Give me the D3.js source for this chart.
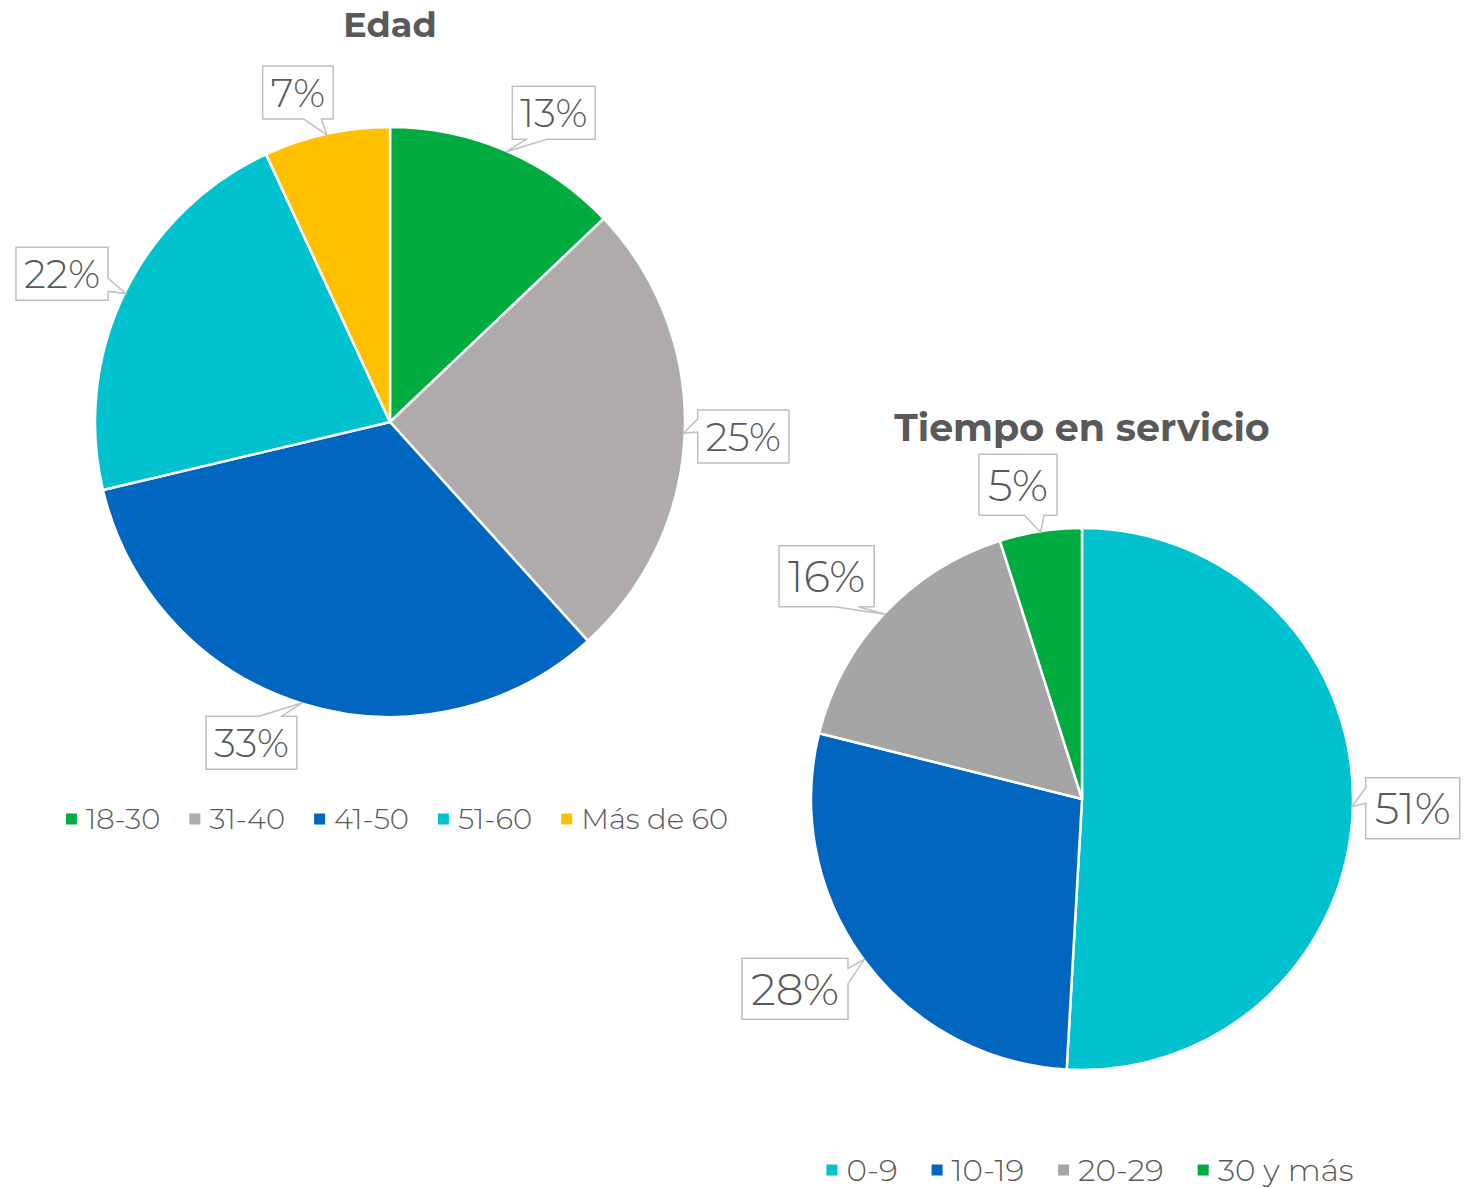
<!DOCTYPE html>
<html>
<head>
<meta charset="utf-8">
<script src="https://cdn.jsdelivr.net/npm/d3@7"></script>
<style>
  html, body { margin: 0; padding: 0; background: #fff; }
  svg { display: block; }
</style>
</head>
<body>
<svg id="chart" width="1468" height="1188"></svg>
<script>
// ---- Data ----
const edadTitle = "Edad";
const edadCats = ["18-30", "31-40", "41-50", "51-60", "Más de 60"];
const edadValues = [12.9, 25.4, 33.0, 21.8, 6.9];

const servTitle = "Tiempo en servicio";
const servCats = ["0-9", "10-19", "20-29", "30 y más"];
const servValues = [50.9, 28.0, 16.2, 4.9];

// ---- Styles ----
const edadColors = ["#00AC3F", "#AFABAB", "#0066C0", "#00C2CE", "#FFC000"];
const servColors = ["#00C2CE", "#0066C0", "#A5A5A5", "#00AC3F"];
const textColor = "#595959";
const fontFamily = "Montserrat, 'Open Sans', Lato, sans-serif";

const svg = d3.select("#chart");

function calloutPath(l, t, w, h, px, py) {
  const r = l + w, b = t + h;
  const dx = px - (l + w / 2), dy = py - (t + h / 2);
  const dq = dx * h / w;
  const dz = Math.abs(dy) - Math.abs(dq);
  const x1 = l + w * (dx > 0 ? 7 : 2) / 12, x2 = l + w * (dx > 0 ? 10 : 5) / 12;
  const y1 = t + h * (dy > 0 ? 7 : 2) / 12, y2 = t + h * (dy > 0 ? 10 : 5) / 12;
  const side = dz > 0 ? (dy < 0 ? "top" : "bottom") : (dx < 0 ? "left" : "right");
  let p = `M${l},${t}`;
  if (side === "top") p += `L${x1},${t}L${px},${py}L${x2},${t}`;
  p += `L${r},${t}`;
  if (side === "right") p += `L${r},${y1}L${px},${py}L${r},${y2}`;
  p += `L${r},${b}`;
  if (side === "bottom") p += `L${x2},${b}L${px},${py}L${x1},${b}`;
  p += `L${l},${b}`;
  if (side === "left") p += `L${l},${y2}L${px},${py}L${l},${y1}`;
  return p + "Z";
}

function drawPie(cfg) {
  const g = svg.append("g");
  const total = d3.sum(cfg.values);
  const pie = d3.pie().sort(null).value(d => d)(cfg.values);
  const color = d3.scaleOrdinal().domain(cfg.cats).range(cfg.colors);
  const arc = d3.arc().innerRadius(0).outerRadius(cfg.r);

  // title
  g.append("text")
    .attr("x", cfg.titleX).attr("y", cfg.titleY)
    .attr("text-anchor", "middle")
    .attr("font-family", fontFamily)
    .attr("font-weight", 700)
    .attr("font-size", cfg.titleSize)
    .attr("fill", textColor)
    .text(cfg.title);

  // slices
  g.append("g").attr("transform", `translate(${cfg.cx},${cfg.cy})`)
    .selectAll("path").data(pie).join("path")
    .attr("d", arc)
    .attr("fill", (d, i) => color(cfg.cats[i]))
    .attr("stroke", "#fff")
    .attr("stroke-width", 2.5)
    .attr("stroke-linejoin", "round");

  // labels
  const lg = g.append("g");
  pie.forEach((d, i) => {
    const mid = (d.startAngle + d.endAngle) / 2;
    const label = Math.round(d.value / total * 100) + "%";
    const t = lg.append("text")
      .attr("font-family", fontFamily)
      .attr("font-weight", 300)
      .attr("font-size", cfg.labelSize)
      .attr("fill", textColor)
      .attr("text-anchor", "middle")
      .text(label);
    const tw = t.node().getComputedTextLength();
    const w = tw + cfg.padX * 2, h = cfg.boxH;
    const a = mid + cfg.nudge[i] * Math.PI / 180;
    const ux = Math.sin(a), uy = -Math.cos(a);
    const support = Math.abs(ux) * w / 2 + Math.abs(uy) * h / 2;
    const dist = cfg.r + cfg.gap + support;
    const bx = cfg.cx + ux * dist, by = cfg.cy + uy * dist;
    const px = cfg.cx + Math.sin(mid) * (cfg.r - 1), py = cfg.cy - Math.cos(mid) * (cfg.r - 1);
    lg.insert("path", "text")
      .attr("d", calloutPath(bx - w / 2, by - h / 2, w, h, px, py))
      .attr("fill", "#fff")
      .attr("stroke", "#BFBFBF")
      .attr("stroke-width", 1.5);
    t.attr("x", bx).attr("y", by + cfg.labelSize * 0.36);
  });

  // legend
  const leg = g.append("g");
  const items = cfg.cats.map((c, i) => {
    const it = leg.append("g");
    it.append("rect").attr("width", cfg.sq).attr("height", cfg.sq)
      .attr("y", -cfg.sq / 2).attr("fill", color(c));
    const tx = it.append("text")
      .attr("x", cfg.sq + 9)
      .attr("y", cfg.legendSize * 0.36)
      .attr("font-family", fontFamily)
      .attr("font-weight", 300)
      .attr("font-size", cfg.legendSize)
      .attr("fill", textColor)
      .text(c);
    return { it, w: cfg.sq + 9 + tx.node().getComputedTextLength() };
  });
  const gapItems = cfg.legendGap;
  const totalW = d3.sum(items, d => d.w) + gapItems * (items.length - 1);
  let x = cfg.legendX - totalW / 2;
  items.forEach(d => {
    d.it.attr("transform", `translate(${x},${cfg.legendY})`);
    x += d.w + gapItems;
  });
}

drawPie({
  title: edadTitle, cats: edadCats, values: edadValues, colors: edadColors,
  cx: 390, cy: 422, r: 295,
  titleX: 390, titleY: 37, titleSize: 35,
  labelSize: 39, boxH: 53, padX: 8, gap: 12,
  nudge: [4.7, 0.2, 6.1, -1.6, -3.2],
  legendX: 397, legendY: 819, legendSize: 29, legendGap: 29, sq: 11
});

drawPie({
  title: servTitle, cats: servCats, values: servValues, colors: servColors,
  cx: 1082, cy: 799, r: 271,
  titleX: 1082, titleY: 441, titleSize: 38,
  labelSize: 44, boxH: 61, padX: 9, gap: 12,
  nudge: [0, 2.9, -2.1, -2.7],
  legendX: 1090, legendY: 1170, legendSize: 31, legendGap: 34, sq: 11
});
</script>
</body>
</html>
